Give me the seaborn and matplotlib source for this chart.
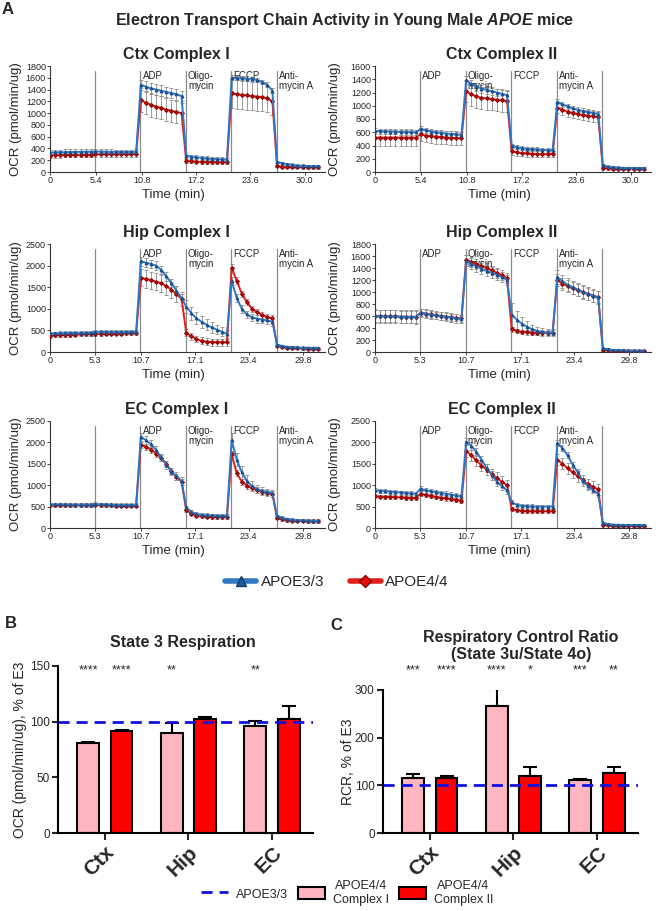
import numpy as np
import pandas as pd
import matplotlib
matplotlib.use('Agg')
import matplotlib.pyplot as plt
from matplotlib.lines import Line2D
from matplotlib.patches import Patch
import seaborn as sns

sns.set_style('ticks')
plt.rcParams['font.family'] = ['Liberation Sans', 'DejaVu Sans']
plt.rcParams['mathtext.fontset'] = 'custom'
plt.rcParams['mathtext.it'] = 'Liberation Sans:italic:bold'
plt.rcParams['mathtext.rm'] = 'Liberation Sans:bold'

# ---------------- panel A: Seahorse traces (9 readings per phase) ----------------
minutes = [0.0, 0.6, 1.2, 1.8, 2.4, 3.0, 3.6, 4.2, 4.8,
           5.35, 5.95, 6.55, 7.15, 7.75, 8.35, 8.95, 9.55, 10.15,
           10.7, 11.3, 11.9, 12.5, 13.1, 13.7, 14.3, 14.9, 15.5,
           16.05, 16.65, 17.25, 17.85, 18.45, 19.05, 19.65, 20.25, 20.85,
           21.4, 22.0, 22.6, 23.2, 23.8, 24.4, 25.0, 25.6, 26.2,
           26.75, 27.35, 27.95, 28.55, 29.15, 29.75, 30.35, 30.95, 31.55]
injections = [5.3, 10.65, 16.0, 21.35, 26.7]
inj_labels_c1 = ['', 'ADP', 'Oligo-\nmycin', 'FCCP', 'Anti-\nmycin A']
inj_labels_c2 = ['ADP', 'Oligo-\nmycin', 'FCCP', 'Anti-\nmycin A', '']
ticks_ctx = [0, 5.4, 10.8, 17.2, 23.6, 30.0]
ticks_ctx_labels = ['0', '5.4', '10.8', '17.2', '23.6', '30.0']
ticks_hip = [0, 5.3, 10.7, 17.1, 23.4, 29.8]
ticks_hip_labels = ['0', '5.3', '10.7', '17.1', '23.4', '29.8']

# Ctx Complex I
ctx1_e3 = [330, 335, 335, 338, 340, 340, 342, 345, 345, 350, 348, 345, 343, 342, 340, 340, 342, 345,
           1480, 1450, 1420, 1400, 1380, 1360, 1340, 1320, 1290, 280, 260, 250, 240, 230, 225, 220, 215, 210,
           1600, 1595, 1590, 1585, 1580, 1560, 1530, 1480, 1380, 170, 150, 130, 120, 110, 105, 100, 100, 100]
ctx1_e4 = [280, 285, 285, 288, 290, 290, 292, 295, 295, 300, 300, 300, 300, 300, 300, 300, 300, 305,
           1220, 1180, 1140, 1110, 1090, 1060, 1040, 1020, 1000, 190, 180, 175, 170, 170, 168, 165, 165, 165,
           1340, 1320, 1310, 1300, 1290, 1280, 1270, 1250, 1200, 100, 90, 85, 80, 80, 78, 78, 78, 78]
ctx1_e3_err = [45, 45, 45, 45, 45, 45, 45, 45, 45, 40, 40, 40, 40, 40, 40, 40, 40, 40,
               90, 90, 90, 90, 90, 90, 90, 90, 90, 35, 35, 35, 35, 35, 35, 35, 35, 35,
               40, 40, 40, 40, 40, 40, 40, 40, 40, 25, 25, 25, 25, 25, 25, 25, 25, 25]
ctx1_e4_err = [40, 40, 40, 40, 40, 40, 40, 40, 40, 45, 45, 45, 45, 45, 45, 45, 45, 45,
               200, 200, 200, 200, 195, 190, 190, 185, 180, 30, 30, 30, 30, 30, 30, 30, 30, 30,
               250, 250, 245, 245, 240, 240, 235, 235, 230, 20, 20, 20, 20, 20, 20, 20, 20, 20]

# Ctx Complex II
ctx2_e3 = [620, 615, 612, 610, 608, 605, 605, 602, 600, 650, 630, 610, 600, 590, 580, 575, 570, 560,
           1390, 1330, 1290, 1260, 1240, 1220, 1200, 1180, 1160, 400, 375, 360, 350, 345, 340, 335, 330, 330,
           1060, 1020, 990, 960, 940, 920, 905, 890, 880, 100, 80, 70, 65, 62, 60, 60, 60, 60]
ctx2_e4 = [520, 520, 520, 520, 520, 520, 520, 520, 520, 570, 550, 540, 530, 525, 520, 515, 512, 510,
           1220, 1170, 1140, 1120, 1110, 1100, 1090, 1080, 1070, 310, 295, 285, 280, 275, 272, 270, 270, 270,
           970, 940, 910, 890, 875, 860, 850, 840, 830, 60, 55, 50, 50, 50, 50, 50, 50, 50]
ctx2_e3_err = [40, 40, 40, 40, 40, 40, 40, 40, 40, 40, 40, 40, 40, 40, 40, 40, 40, 40,
               60, 60, 60, 60, 60, 60, 60, 60, 60, 30, 30, 30, 30, 30, 30, 30, 30, 30,
               40, 40, 40, 40, 40, 40, 40, 40, 40, 20, 20, 20, 20, 20, 20, 20, 20, 20]
ctx2_e4_err = [120, 120, 120, 120, 120, 120, 120, 120, 120, 100, 100, 100, 100, 100, 100, 100, 100, 100,
               170, 170, 170, 170, 170, 170, 170, 170, 170, 50, 50, 50, 50, 50, 50, 50, 50, 50,
               80, 80, 80, 80, 80, 80, 80, 80, 80, 20, 20, 20, 20, 20, 20, 20, 20, 20]

# Hip Complex I
hip1_e3 = [430, 432, 435, 438, 440, 442, 445, 448, 450, 470, 468, 468, 466, 466, 466, 468, 470, 470,
           2100, 2070, 2040, 2000, 1900, 1750, 1600, 1420, 1250, 1050, 900, 780, 700, 630, 570, 520, 470, 420,
           1650, 1250, 1000, 870, 800, 770, 750, 730, 700, 170, 140, 120, 110, 105, 100, 100, 98, 98]
hip1_e4 = [380, 385, 390, 395, 400, 405, 410, 412, 415, 420, 420, 422, 425, 425, 428, 430, 430, 430,
           1720, 1690, 1660, 1630, 1590, 1530, 1440, 1340, 1230, 450, 360, 300, 260, 240, 230, 225, 225, 225,
           1950, 1650, 1350, 1150, 1000, 920, 860, 810, 780, 150, 120, 100, 90, 85, 82, 80, 80, 80]
hip1_e3_err = [40, 40, 40, 40, 40, 40, 40, 40, 40, 35, 35, 35, 35, 35, 35, 35, 35, 35,
               100, 100, 100, 100, 100, 100, 100, 100, 100, 150, 150, 140, 140, 130, 120, 110, 100, 90,
               90, 90, 90, 90, 90, 90, 90, 90, 90, 25, 25, 25, 25, 25, 25, 25, 25, 25]
hip1_e4_err = [45, 45, 45, 45, 45, 45, 45, 45, 45, 40, 40, 40, 40, 40, 40, 40, 40, 40,
               200, 200, 200, 200, 200, 200, 190, 180, 170, 80, 80, 80, 80, 80, 80, 80, 80, 80,
               80, 80, 70, 70, 70, 70, 70, 70, 70, 25, 25, 25, 25, 25, 25, 25, 25, 25]

# Hip Complex II
hip2_e3 = [600, 598, 596, 594, 592, 590, 588, 586, 584, 650, 640, 625, 612, 600, 590, 575, 560, 550,
           1520, 1470, 1430, 1390, 1350, 1320, 1290, 1250, 1200, 620, 540, 470, 420, 380, 350, 335, 325, 320,
           1250, 1180, 1120, 1080, 1040, 1000, 970, 940, 910, 60, 45, 35, 30, 28, 25, 25, 25, 25]
hip2_e4 = [605, 600, 598, 595, 592, 590, 588, 585, 585, 655, 640, 628, 615, 600, 590, 580, 570, 560,
           1540, 1500, 1470, 1430, 1400, 1360, 1320, 1280, 1230, 380, 350, 335, 330, 325, 325, 325, 325, 325,
           1200, 1140, 1100, 1060, 1030, 1000, 970, 940, 910, 40, 30, 25, 22, 20, 20, 20, 20, 20]
hip2_e3_err = [110, 110, 110, 110, 110, 110, 110, 110, 110, 70, 70, 70, 70, 70, 70, 70, 70, 70,
               90, 90, 90, 90, 90, 90, 90, 90, 90, 200, 150, 120, 90, 70, 60, 60, 60, 60,
               110, 110, 110, 110, 110, 110, 110, 110, 110, 15, 15, 15, 15, 15, 15, 15, 15, 15]
hip2_e4_err = [100, 100, 100, 100, 100, 100, 100, 100, 100, 60, 60, 60, 60, 60, 60, 60, 60, 60,
               80, 80, 80, 80, 80, 80, 80, 80, 80, 40, 40, 40, 40, 40, 40, 40, 40, 40,
               100, 100, 100, 100, 100, 100, 100, 100, 100, 15, 15, 15, 15, 15, 15, 15, 15, 15]

# EC Complex I
ec1_e3 = [550, 552, 550, 550, 548, 548, 548, 548, 548, 560, 555, 550, 545, 540, 540, 540, 540, 540,
          2130, 2050, 1960, 1820, 1650, 1480, 1320, 1220, 1100, 480, 380, 330, 310, 300, 295, 290, 290, 290,
          2050, 1600, 1300, 1100, 980, 910, 870, 840, 820, 280, 240, 210, 195, 185, 180, 175, 170, 170]
ec1_e4 = [530, 530, 530, 530, 530, 530, 530, 530, 530, 540, 535, 530, 528, 525, 525, 525, 525, 525,
          1950, 1900, 1830, 1740, 1630, 1500, 1330, 1190, 1080, 420, 330, 290, 270, 260, 255, 255, 255, 255,
          1720, 1280, 1080, 990, 930, 880, 850, 820, 800, 230, 200, 180, 170, 165, 160, 158, 155, 155]
ec1_e3_err = [35, 35, 35, 35, 35, 35, 35, 35, 35, 40, 40, 40, 40, 40, 40, 40, 40, 40,
              90, 90, 90, 90, 90, 90, 90, 90, 90, 40, 40, 40, 40, 40, 40, 40, 40, 40,
              160, 160, 150, 140, 120, 100, 80, 70, 60, 35, 35, 35, 35, 35, 35, 35, 35, 35]
ec1_e4_err = [30, 30, 30, 30, 30, 30, 30, 30, 30, 35, 35, 35, 35, 35, 35, 35, 35, 35,
              70, 70, 70, 70, 70, 70, 70, 70, 70, 35, 35, 35, 35, 35, 35, 35, 35, 35,
              70, 70, 70, 70, 70, 70, 70, 70, 70, 30, 30, 30, 30, 30, 30, 30, 30, 30]

# EC Complex II
ec2_e3 = [880, 870, 860, 850, 840, 830, 820, 810, 800, 920, 880, 860, 840, 820, 800, 780, 760, 740,
          2020, 1920, 1780, 1600, 1400, 1250, 1080, 980, 880, 600, 540, 520, 510, 505, 500, 500, 500, 500,
          1980, 1870, 1700, 1480, 1300, 1100, 980, 880, 800, 120, 90, 80, 75, 72, 70, 70, 70, 70]
ec2_e4 = [740, 735, 730, 725, 720, 715, 710, 705, 700, 800, 770, 750, 730, 710, 690, 675, 660, 640,
          1800, 1700, 1580, 1460, 1360, 1260, 1170, 1080, 1000, 450, 410, 400, 395, 390, 390, 390, 390, 390,
          1600, 1500, 1400, 1300, 1210, 1110, 1020, 960, 900, 80, 60, 50, 48, 45, 45, 45, 45, 45]
ec2_e3_err = [45, 45, 45, 45, 45, 45, 45, 45, 45, 55, 55, 55, 55, 55, 55, 55, 55, 55,
              90, 90, 90, 90, 90, 90, 90, 90, 90, 45, 45, 45, 45, 45, 45, 45, 45, 45,
              70, 70, 70, 70, 70, 70, 70, 70, 70, 20, 20, 20, 20, 20, 20, 20, 20, 20]
ec2_e4_err = [45, 45, 45, 45, 45, 45, 45, 45, 45, 55, 55, 55, 55, 55, 55, 55, 55, 55,
              130, 130, 130, 130, 130, 130, 130, 130, 130, 45, 45, 45, 45, 45, 45, 45, 45, 45,
              130, 130, 130, 130, 130, 130, 130, 130, 130, 20, 20, 20, 20, 20, 20, 20, 20, 20]

# ---------------- panels B and C: bars, % of APOE3/3 ----------------
regions = ['Ctx', 'Hip', 'EC']
state3_c1 = [81, 90, 96.5]
state3_c1_err = [1, 9, 4]
state3_c2 = [91.5, 102, 102]
state3_c2_err = [0.7, 2, 12]
state3_stars_c1 = ['****', '**', '**']
state3_stars_c2 = ['****', '', '']
rcr_c1 = [116, 267, 111]
rcr_c1_err = [8, 36, 3]
rcr_c2 = [116, 119, 126]
rcr_c2_err = [3, 20, 13]
rcr_stars_c1 = ['***', '****', '***']
rcr_stars_c2 = ['****', '*', '**']

blue = '#2f78c4'
red = '#e0201c'
pink = '#ffb6c1'
red2 = '#ff0000'
dash_blue = '#1010e0'

W, H = 656, 911
fig = plt.figure(figsize=(W / 100, H / 100), dpi=100)


def px_axes(l, t, r, b):
    return fig.add_axes([l / W, 1 - b / H, (r - l) / W, (b - t) / H])


def trace_panel(ax, title, e3, e4, e3_err, e4_err, ymax, ystep, ticks, tick_labels, inj_labels, ylab_x):
    n = len(minutes)
    df = pd.DataFrame({'Time (min)': minutes * 2,
                       'OCR': e4 + e3,
                       'genotype': ['APOE4/4'] * n + ['APOE3/3'] * n})
    for x, lab in zip(injections, inj_labels):
        ax.axvline(x, ymin=0, ymax=0.95, color='#8a8a8a', lw=0.9, zorder=1)
        if lab:
            ax.text(x + 0.25, ymax * 0.95, lab, fontsize=7, va='top', ha='left', linespacing=1.0)
    for vals, errs in [(e4, e4_err), (e3, e3_err)]:
        ax.errorbar(minutes, vals, yerr=errs, fmt='none', ecolor='#8c8c8c', elinewidth=0.6,
                    capsize=1.2, capthick=0.6, zorder=2)
    sns.lineplot(data=df, x='Time (min)', y='OCR', hue='genotype', style='genotype',
                 hue_order=['APOE4/4', 'APOE3/3'], palette={'APOE4/4': red, 'APOE3/3': blue},
                 markers={'APOE4/4': 'D', 'APOE3/3': '^'}, dashes=False, sort=False, errorbar=None,
                 lw=1.4, markersize=2.0, legend=False, ax=ax, zorder=3)
    l4, l3 = ax.get_lines()[-2:]
    l4.set_markerfacecolor('#c81010')
    l4.set_markeredgecolor('#8b0000')
    l3.set_markerfacecolor('#1d4f8a')
    l3.set_markeredgecolor('#1d4f8a')
    ax.set_xlim(0, 32.4)
    ax.set_ylim(0, ymax)
    ax.set_yticks(np.arange(0, ymax + 1, ystep))
    ax.set_xticks(ticks, tick_labels)
    ax.tick_params(labelsize=6.5, length=2, width=0.6, pad=1)
    sns.despine(ax=ax)
    for s in ['left', 'bottom']:
        ax.spines[s].set_linewidth(0.8)
        ax.spines[s].set_color('#333333')
    ax.set_xlabel('Time (min)', fontsize=9.5, x=0.45, labelpad=3)
    ax.set_ylabel('OCR (pmol/min/ug)', fontsize=9.5)
    ax.yaxis.set_label_coords(ylab_x, 0.5)
    ax.set_title(title, fontsize=11.5, fontweight='bold', x=0.46, pad=5)


rows = [(66, 172), (244, 352), (421, 528)]
panels = [
    ('Ctx Complex I', ctx1_e3, ctx1_e4, ctx1_e3_err, ctx1_e4_err, 1800, 200, ticks_ctx, ticks_ctx_labels, inj_labels_c1),
    ('Ctx Complex II', ctx2_e3, ctx2_e4, ctx2_e3_err, ctx2_e4_err, 1600, 200, ticks_ctx, ticks_ctx_labels, inj_labels_c2),
    ('Hip Complex I', hip1_e3, hip1_e4, hip1_e3_err, hip1_e4_err, 2500, 500, ticks_hip, ticks_hip_labels, inj_labels_c1),
    ('Hip Complex II', hip2_e3, hip2_e4, hip2_e3_err, hip2_e4_err, 1800, 200, ticks_hip, ticks_hip_labels, inj_labels_c2),
    ('EC Complex I', ec1_e3, ec1_e4, ec1_e3_err, ec1_e4_err, 2500, 500, ticks_hip, ticks_hip_labels, inj_labels_c1),
    ('EC Complex II', ec2_e3, ec2_e4, ec2_e3_err, ec2_e4_err, 2500, 500, ticks_hip, ticks_hip_labels, inj_labels_c2),
]
for i, p in enumerate(panels):
    t, b = rows[i // 2]
    if i % 2 == 0:
        ax = px_axes(50, t, 325, b)
        trace_panel(ax, *p, ylab_x=-0.102)
    else:
        ax = px_axes(375, t, 651, b)
        trace_panel(ax, *p, ylab_x=-0.123)

fig.text(2 / W, 1 - 9 / H, 'A', fontsize=12, fontweight='bold', va='center', ha='left')
fig.text(345 / W, 1 - 20 / H, 'Electron Transport Chain Activity in Young Male $\\it{APOE}$ mice',
         fontsize=11.5, fontweight='bold', ha='center', va='center')

top_handles = [Line2D([], [], color=blue, lw=4, marker='^', markersize=7, mfc='#1f5f99', mec='#123c66'),
               Line2D([], [], color=red, lw=4, marker='D', markersize=6, mfc='#e01010', mec='#8b0000')]
fig.legend(top_handles, ['APOE3/3', 'APOE4/4'], loc='center', bbox_to_anchor=(337 / W, 1 - 582 / H),
           ncol=2, frameon=False, fontsize=11, handlelength=2.0, columnspacing=1.7, handletextpad=0.3)


def bar_panel(ax, title, c1, c2, c1_err, c2_err, s1, s2, ymax, ystep, star_y, ylabel, ylab_x, title_x, title_pad):
    df = pd.DataFrame({'region': regions * 2,
                       'complex': ['Complex I'] * 3 + ['Complex II'] * 3,
                       'value': c1 + c2})
    sns.barplot(data=df, x='region', y='value', hue='complex', palette=[pink, red2], saturation=1,
                width=0.8, gap=0.35, edgecolor='black', linewidth=1.5, errorbar=None, legend=False,
                ax=ax, zorder=2)
    bars = ax.patches
    xs = [p.get_x() + p.get_width() / 2 for p in bars]
    hs = [p.get_height() for p in bars]
    errs = c1_err + c2_err
    ax.errorbar(xs, hs, yerr=[[0] * len(errs), errs], fmt='none', ecolor='black', elinewidth=1.5,
                capsize=5, capthick=1.5, zorder=1)
    ax.axhline(100, color=dash_blue, ls=(0, (4, 2.5)), lw=2, zorder=4)
    for x, s in zip(xs, s1 + s2):
        if s:
            ax.text(x, star_y, s, ha='center', va='center', fontsize=9, clip_on=False)
    ax.set_xlim(-0.56, 2.49)
    ax.set_ylim(0, ymax)
    ax.set_yticks(np.arange(0, ymax + 1, ystep))
    ax.set_xticks([0, 1, 2])
    ax.set_xticklabels(regions, rotation=45, ha='right', rotation_mode='anchor', fontsize=15, fontweight='bold')
    ax.tick_params(axis='y', labelsize=8.5, width=1.5, length=4, pad=2)
    ax.tick_params(axis='x', width=1.5, length=5, pad=2)
    sns.despine(ax=ax)
    for s in ['left', 'bottom']:
        ax.spines[s].set_linewidth(1.5)
        ax.spines[s].set_color('black')
    ax.set_xlabel('')
    ax.set_ylabel(ylabel, fontsize=10)
    ax.yaxis.set_label_coords(ylab_x, 0.5)
    ax.set_title(title, fontsize=11.5, fontweight='bold', x=title_x, pad=title_pad, linespacing=1.2)


axb = px_axes(58, 666, 313, 833)
bar_panel(axb, 'State 3 Respiration', state3_c1, state3_c2, state3_c1_err, state3_c2_err,
          state3_stars_c1, state3_stars_c2, 150, 50, 146, 'OCR (pmol/min/ug), % of E3', -0.12, 0.49, 14)
axc = px_axes(383, 690, 638, 833)
bar_panel(axc, 'Respiratory Control Ratio\n(State 3u/State 4o)', rcr_c1, rcr_c2, rcr_c1_err, rcr_c2_err,
          rcr_stars_c1, rcr_stars_c2, 300, 100, 342, 'RCR, % of E3', -0.11, 0.54, 22)

fig.text(5 / W, 1 - 624 / H, 'B', fontsize=12, fontweight='bold', va='center', ha='left')
fig.text(330 / W, 1 - 625 / H, 'C', fontsize=12, fontweight='bold', va='center', ha='left')

bottom_handles = [Line2D([], [], color=dash_blue, ls=(0, (4, 2.5)), lw=2),
                  Patch(facecolor=pink, edgecolor='black', lw=1.5),
                  Patch(facecolor=red2, edgecolor='black', lw=1.5)]
leg = fig.legend(bottom_handles, ['APOE3/3', 'APOE4/4\nComplex I', 'APOE4/4\nComplex II'], loc='center',
                 bbox_to_anchor=(347 / W, 1 - 893 / H), ncol=3, frameon=False, fontsize=9,
                 handlelength=2.2, handleheight=1.1, columnspacing=0.8, handletextpad=0.6)
for t in leg.get_texts():
    t.set_multialignment('center')

fig.savefig('out.png', dpi=100)
